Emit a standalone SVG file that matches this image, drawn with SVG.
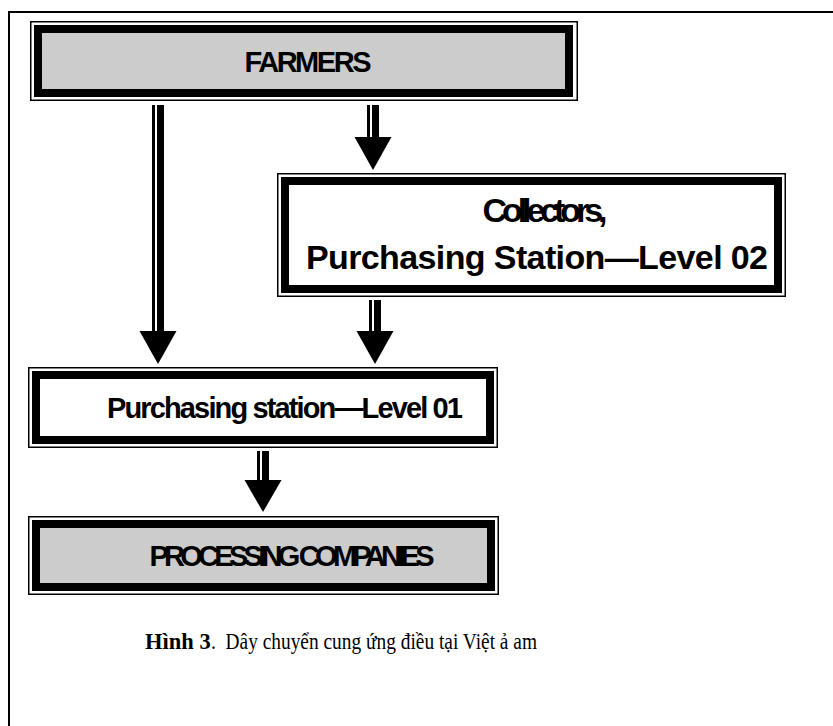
<svg xmlns="http://www.w3.org/2000/svg" width="833" height="726" viewBox="0 0 833 726">
<style>
.thin{fill:none;stroke:#000;stroke-width:1.5}
.thick{stroke:#000;stroke-width:8}
.gray{fill:#cccccc}
.white{fill:#ffffff}
.lbl{font-family:"Liberation Sans",Arial,sans-serif;font-weight:bold;font-size:29px;fill:#000;text-anchor:middle}
.big{font-size:34px}
.cap{font-family:"Liberation Serif","Times New Roman",serif;font-size:22.5px;fill:#000}
.arr{fill:#000}
</style>
<rect x="0" y="0" width="833" height="726" fill="#fff"/>
<rect x="9" y="12" width="900" height="900" fill="none" stroke="#000" stroke-width="2"/>

<g id="farmers">
<rect class="thin" x="30.75" y="21.75" width="546.5" height="78.5"/>
<rect class="thick gray" x="38" y="29" width="531" height="64"/>
<text class="lbl" x="308" y="72" textLength="127">FARMERS</text>
</g>

<g id="collectors">
<rect class="thin" x="277.75" y="173.75" width="507.5" height="122.5"/>
<rect class="thick white" x="285" y="181" width="493" height="108"/>
<text class="lbl big" x="545" y="222" textLength="125">Collectors,</text>
<text class="lbl big" x="537" y="269" textLength="462">Purchasing Station—Level 02</text>
</g>

<g id="level01">
<rect class="thin" x="28.75" y="367.75" width="468.5" height="79.5"/>
<rect class="thick white" x="36" y="375" width="454" height="65"/>
<text class="lbl" x="285" y="418" textLength="356">Purchasing station—Level 01</text>
</g>

<g id="processing">
<rect class="thin" x="28.75" y="516.75" width="469.5" height="77.5"/>
<rect class="thick gray" x="36" y="524" width="455" height="63"/>
<text class="lbl" x="292" y="566" textLength="285">PROCESSING COMPANIES</text>
</g>

<g id="connectors">
<g id="a1">
<rect class="arr" x="152" y="105" width="3" height="227"/>
<rect class="arr" x="157" y="105" width="7" height="227"/>
<polygon class="arr" points="139.5,331 176.5,331 158,364"/>
</g>
<g id="a2">
<rect class="arr" x="367" y="105" width="3" height="33"/>
<rect class="arr" x="372" y="105" width="7" height="33"/>
<polygon class="arr" points="354.5,137 391.5,137 373,170"/>
</g>
<g id="a3">
<rect class="arr" x="369" y="300" width="3" height="32"/>
<rect class="arr" x="374" y="300" width="7" height="32"/>
<polygon class="arr" points="356.5,331 393.5,331 375,364"/>
</g>
<g id="a4">
<rect class="arr" x="257" y="451" width="3" height="30"/>
<rect class="arr" x="262" y="451" width="7" height="30"/>
<polygon class="arr" points="244.5,480 281.5,480 263,512"/>
</g>
</g>

<text class="cap" x="145" y="649" font-weight="bold">Hình 3</text>
<text class="cap" x="211" y="649" textLength="326" lengthAdjust="spacingAndGlyphs" xml:space="preserve">.  Dây chuyển cung ứng điều tại Việt ả am</text>
</svg>
